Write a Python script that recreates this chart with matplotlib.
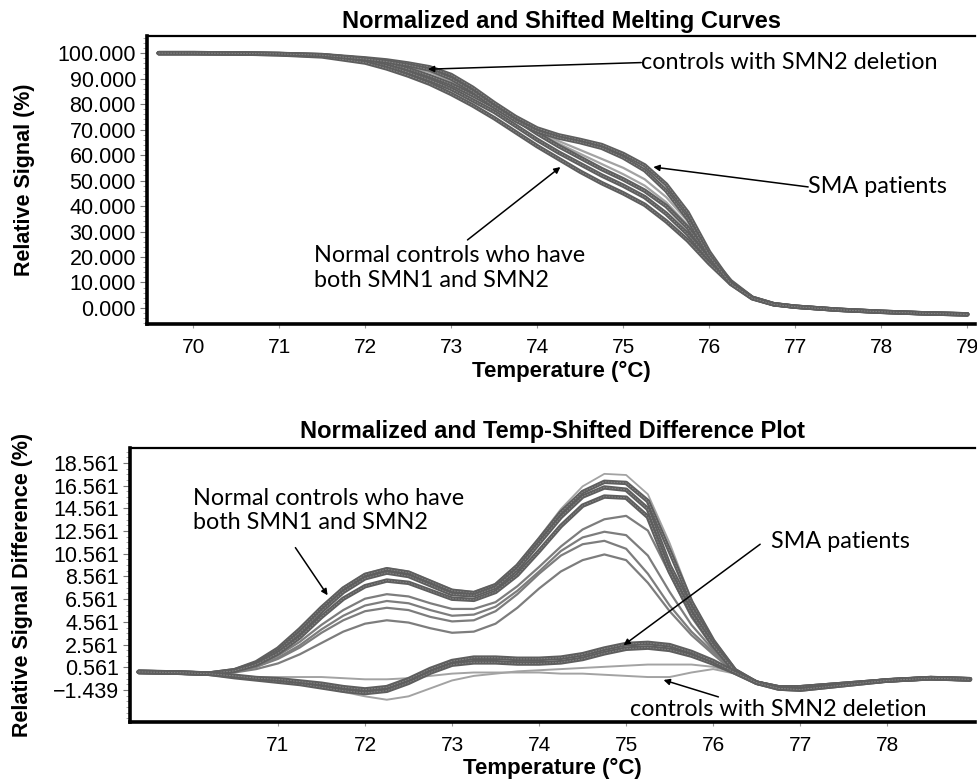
import matplotlib
matplotlib.use("Agg")
import matplotlib.pyplot as plt
from matplotlib.ticker import AutoMinorLocator

plt.rcParams['font.family'] = ['Liberation Sans', 'DejaVu Sans']

# ---- top panel: normalized and shifted melting curves
temp_top = [69.6, 70.0, 70.5, 71.0, 71.5, 72.0, 72.25, 72.5, 72.75, 73.0, 73.25, 73.5, 73.75, 74.0,
            74.25, 74.5, 74.75, 75.0, 75.25, 75.5, 75.75, 76.0, 76.25, 76.5, 76.75, 77.0, 77.5,
            78.0, 78.5, 79.0]
melt_normal = [
    [100, 100, 99.9, 99.7, 99.2, 97.6, 96.0, 93.8, 91.0, 87.8, 83.5, 79.0, 74.0, 68.5, 63.5, 59.0,
     54.5, 50.5, 46.0, 40.0, 31.5, 20.5, 10.5, 4.0, 1.5, 0.5, -0.7, -1.5, -2.1, -2.5],
    [100, 100, 99.9, 99.6, 99.0, 97.0, 95.0, 92.5, 89.5, 86.0, 81.5, 77.0, 71.5, 66.0, 61.0, 56.5,
     52.0, 48.0, 43.5, 37.0, 29.0, 19.0, 10.0, 4.0, 1.5, 0.5, -0.7, -1.5, -2.1, -2.5],
    [100, 100, 99.9, 99.5, 98.7, 96.3, 94.0, 91.2, 88.0, 84.0, 79.5, 74.5, 69.0, 63.5, 58.5, 53.5,
     49.0, 45.0, 40.5, 34.0, 26.5, 17.5, 9.5, 3.8, 1.4, 0.5, -0.7, -1.5, -2.1, -2.5],
]
melt_sma = [
    [100, 100, 99.9, 99.7, 99.3, 98.0, 97.2, 96.0, 94.5, 91.5, 86.5, 80.5, 75.0, 70.5, 67.8, 66.0,
     64.0, 60.5, 56.0, 48.5, 37.5, 22.0, 10.0, 4.0, 1.5, 0.5, -0.7, -1.5, -2.1, -2.5],
    [100, 100, 99.9, 99.7, 99.2, 97.7, 96.7, 95.3, 93.5, 90.0, 85.0, 79.0, 73.5, 69.3, 66.8, 65.0,
     62.8, 59.0, 54.0, 46.0, 35.0, 20.5, 9.5, 3.8, 1.4, 0.5, -0.7, -1.5, -2.1, -2.5],
]
melt_deletion = [
    [100, 100, 99.9, 99.7, 99.3, 97.8, 96.5, 94.7, 92.5, 89.0, 84.5, 79.5, 74.0, 69.0, 64.5, 60.5,
     56.5, 52.5, 48.0, 41.5, 32.5, 21.0, 10.0, 4.0, 1.5, 0.5, -0.7, -1.5, -2.1, -2.5],
    [100, 100, 99.9, 99.7, 99.4, 98.2, 97.0, 95.5, 93.2, 89.8, 85.0, 79.8, 74.5, 69.5, 65.5, 62.0,
     58.5, 55.0, 50.5, 43.5, 34.0, 21.5, 10.0, 4.0, 1.5, 0.5, -0.7, -1.5, -2.1, -2.5],
]
top_yticks = [0, 10, 20, 30, 40, 50, 60, 70, 80, 90, 100]
top_xticks = [70, 71, 72, 73, 74, 75, 76, 77, 78, 79]

# ---- bottom panel: temp-shifted difference plot
temp_bot = [69.4, 69.8, 70.2, 70.5, 70.75, 71.0, 71.25, 71.5, 71.75, 72.0, 72.25, 72.5, 72.75, 73.0,
            73.25, 73.5, 73.75, 74.0, 74.25, 74.5, 74.75, 75.0, 75.25, 75.5, 75.75, 76.0, 76.25,
            76.5, 76.75, 77.0, 77.5, 78.0, 78.5, 78.95]
# dense dark band of normal controls (higher peak)
diff_normal_hi = [
    [0.15, 0.1, 0.0, 0.3, 1.0, 2.2, 3.9, 5.8, 7.5, 8.7, 9.2, 8.9, 8.1, 7.3, 7.1, 7.8, 9.5, 11.8,
     14.2, 16.0, 16.9, 16.8, 15.2, 10.8, 6.3, 2.9, 0.3, -0.8, -1.2, -1.2, -0.9, -0.6, -0.4, -0.5],
    [0.15, 0.1, 0.0, 0.3, 0.9, 2.0, 3.6, 5.5, 7.2, 8.4, 8.9, 8.6, 7.8, 7.0, 6.9, 7.6, 9.2, 11.5,
     13.8, 15.6, 16.4, 16.2, 14.5, 9.5, 5.8, 2.8, 0.3, -0.8, -1.2, -1.2, -0.9, -0.6, -0.4, -0.5],
    [0.15, 0.1, 0.0, 0.25, 0.8, 1.8, 3.2, 5.0, 6.6, 7.7, 8.2, 8.0, 7.3, 6.6, 6.5, 7.2, 8.7, 10.8,
     13.0, 14.8, 15.6, 15.5, 13.8, 9.0, 5.3, 2.5, 0.2, -0.8, -1.2, -1.2, -0.9, -0.6, -0.4, -0.5],
]
# lighter / lower normal control curves
diff_normal_lo = [
    [0.15, 0.1, 0.0, 0.3, 1.0, 2.2, 3.9, 5.9, 7.6, 8.8, 9.3, 9.0, 8.2, 7.4, 7.2, 7.9, 9.6, 12.0,
     14.5, 16.5, 17.6, 17.5, 15.8, 11.5, 6.5, 3.0, 0.3, -0.8, -1.2, -1.2, -0.9, -0.6, -0.4, -0.5],
    [0.15, 0.1, 0.0, 0.2, 0.7, 1.6, 2.8, 4.3, 5.6, 6.6, 7.0, 6.8, 6.2, 5.7, 5.7, 6.3, 7.7, 9.4,
     11.2, 12.7, 13.6, 13.9, 12.6, 8.8, 5.0, 2.3, 0.2, -0.8, -1.2, -1.2, -0.9, -0.6, -0.4, -0.5],
    [0.15, 0.1, 0.0, 0.2, 0.6, 1.4, 2.5, 3.9, 5.1, 6.0, 6.4, 6.2, 5.6, 5.1, 5.2, 5.9, 7.3, 9.0,
     10.8, 12.0, 12.5, 12.2, 10.4, 7.2, 4.3, 2.1, 0.2, -0.8, -1.2, -1.2, -0.9, -0.6, -0.4, -0.5],
    [0.15, 0.1, 0.0, 0.2, 0.6, 1.3, 2.3, 3.6, 4.7, 5.5, 5.8, 5.6, 5.0, 4.6, 4.7, 5.5, 7.0, 8.8,
     10.4, 11.4, 11.7, 11.0, 8.8, 6.0, 3.7, 1.9, 0.2, -0.8, -1.2, -1.2, -0.9, -0.6, -0.4, -0.5],
    [0.15, 0.1, 0.0, 0.1, 0.4, 0.9, 1.7, 2.7, 3.7, 4.4, 4.7, 4.5, 4.0, 3.6, 3.7, 4.4, 5.8, 7.5,
     9.0, 10.0, 10.5, 10.0, 8.0, 5.5, 3.4, 1.7, 0.1, -0.8, -1.2, -1.2, -0.9, -0.6, -0.4, -0.5],
]
diff_sma = [
    [0.15, 0.1, 0.0, -0.3, -0.5, -0.7, -0.9, -1.2, -1.5, -1.7, -1.5, -0.8, 0.1, 0.8, 1.0, 1.0, 0.9,
     0.9, 1.0, 1.3, 1.8, 2.2, 2.3, 2.1, 1.6, 0.9, 0.1, -0.8, -1.3, -1.4, -1.0, -0.6, -0.4, -0.5],
    [0.15, 0.1, 0.0, -0.2, -0.4, -0.5, -0.7, -0.9, -1.2, -1.4, -1.2, -0.5, 0.4, 1.1, 1.4, 1.4, 1.3,
     1.3, 1.4, 1.7, 2.2, 2.6, 2.7, 2.5, 1.9, 1.1, 0.1, -0.8, -1.3, -1.4, -1.0, -0.6, -0.4, -0.5],
]
diff_deletion = [
    [0.15, 0.1, 0.0, -0.2, -0.3, -0.3, -0.3, -0.3, -0.4, -0.5, -0.5, -0.4, -0.2, 0.0, 0.1, 0.1,
     0.1, 0.1, 0.0, 0.0, -0.1, -0.2, -0.3, -0.3, 0.1, 0.4, 0.0, -0.8, -1.2, -1.2, -0.9, -0.6,
     -0.4, -0.5],
    [0.15, 0.1, 0.0, -0.3, -0.4, -0.6, -0.9, -1.2, -1.6, -2.0, -2.3, -2.0, -1.3, -0.6, -0.2, 0.0,
     0.2, 0.3, 0.4, 0.5, 0.6, 0.7, 0.8, 0.8, 0.8, 0.6, 0.1, -0.8, -1.2, -1.2, -0.9, -0.6, -0.4,
     -0.5],
]
bot_yticks = [-1.439, 0.561, 2.561, 4.561, 6.561, 8.561, 10.561, 12.561, 14.561, 16.561, 18.561]
bot_xticks = [71, 72, 73, 74, 75, 76, 77, 78]

DARK = '#5e5e5e'
MID = '#7d7d7d'
LIGHT = '#a3a3a3'
note_font = ['Lato', 'DejaVu Sans']
NOTE_SIZE = 16.8

fig = plt.figure(figsize=(9.77, 7.84), dpi=100)
ax1 = fig.add_axes([0.1505, 0.5867, 0.8475, 0.3673])
ax2 = fig.add_axes([0.1331, 0.0791, 0.865, 0.3495])


def draw_bundle(ax, x, curves, color, lw, grain=True):
    for ys in curves:
        ax.plot(x, ys, color=color, lw=lw, solid_capstyle='round', solid_joinstyle='round')
        if grain:
            ax.plot(x, ys, color='#8a8a8a', lw=0.6, ls=(0, (2, 1.5)))


def style_axes(ax):
    for side in ('left', 'bottom'):
        ax.spines[side].set_linewidth(2.6)
    ax.spines['top'].set_linewidth(1.6)
    ax.spines['right'].set_visible(False)
    ax.tick_params(axis='y', which='major', length=5, width=0.8, color='#777', labelsize=15.5, pad=3)
    ax.tick_params(axis='y', which='minor', length=3, width=0.6, color='#999')
    ax.tick_params(axis='x', which='major', length=3, width=0.8, color='#999', labelsize=15, pad=7)


def arrow(ax, tail, tip):
    ax.annotate('', xy=tip, xytext=tail,
                arrowprops=dict(arrowstyle='-|>', color='black', lw=1.1, mutation_scale=9,
                                shrinkA=0, shrinkB=0))


# top
draw_bundle(ax1, temp_top, melt_deletion, LIGHT, 1.6, grain=False)
draw_bundle(ax1, temp_top, melt_normal, DARK, 3.2)
draw_bundle(ax1, temp_top, melt_sma, DARK, 3.0)
ax1.set_xlim(69.465, 79.09)
ax1.set_ylim(-6.3, 106.7)
ax1.set_yticks(top_yticks)
ax1.set_yticklabels([f'{v:.3f}' for v in top_yticks])
ax1.set_xticks(top_xticks)
style_axes(ax1)
ax1.yaxis.set_minor_locator(AutoMinorLocator(5))
ax1.set_title('Normalized and Shifted Melting Curves', fontsize=17, fontweight='bold', pad=6)
ax1.set_ylabel('Relative Signal (%)', fontsize=15.5, fontweight='bold')
ax1.yaxis.set_label_coords(-0.135, 0.5)
ax1.set_xlabel('Temperature (°C)', fontsize=16, fontweight='bold', labelpad=3)

ax1.text(75.21, 96.5, 'controls with SMN2 deletion', fontsize=NOTE_SIZE, family=note_font,
         va='center')
arrow(ax1, (75.21, 96.3), (72.73, 93.7))
ax1.text(77.15, 47.5, 'SMA patients', fontsize=NOTE_SIZE, family=note_font, va='center')
arrow(ax1, (77.15, 47.5), (75.35, 55.3))
ax1.text(71.40, 15.7, 'Normal controls who have\nboth SMN1 and SMN2', fontsize=NOTE_SIZE,
         family=note_font, va='center', linespacing=1.2)
arrow(ax1, (73.19, 26.7), (74.27, 55.3))

# bottom
draw_bundle(ax2, temp_bot, diff_deletion, LIGHT, 1.4, grain=False)
draw_bundle(ax2, temp_bot, diff_normal_lo[:1], LIGHT, 1.3, grain=False)
draw_bundle(ax2, temp_bot, diff_normal_lo[1:], MID, 1.6, grain=False)
draw_bundle(ax2, temp_bot, diff_normal_hi, DARK, 3.2)
draw_bundle(ax2, temp_bot, diff_sma, DARK, 3.4)
ax2.set_xlim(69.3, 79.01)
ax2.set_ylim(-4.26, 19.88)
ax2.set_yticks(bot_yticks)
ax2.set_yticklabels([f'{v:.3f}'.replace('-', '\u2212') for v in bot_yticks])
ax2.set_xticks(bot_xticks)
style_axes(ax2)
ax2.yaxis.set_minor_locator(AutoMinorLocator(4))
ax2.set_title('Normalized and Temp-Shifted Difference Plot', fontsize=17, fontweight='bold', pad=7)
ax2.set_ylabel('Relative Signal Difference (%)', fontsize=15.5, fontweight='bold')
ax2.yaxis.set_label_coords(-0.115, 0.5)
ax2.set_xlabel('Temperature (°C)', fontsize=16, fontweight='bold', labelpad=2)

ax2.text(70.02, 14.35, 'Normal controls who have\nboth SMN1 and SMN2', fontsize=NOTE_SIZE,
         family=note_font, va='center', linespacing=1.2)
arrow(ax2, (71.2, 11.1), (71.57, 6.9))
ax2.text(76.66, 11.6, 'SMA patients', fontsize=NOTE_SIZE, family=note_font, va='center')
arrow(ax2, (76.54, 11.4), (74.97, 2.5))
ax2.text(75.05, -3.2, 'controls with SMN2 deletion', fontsize=NOTE_SIZE, family=note_font,
         va='center')
arrow(ax2, (76.06, -2.05), (75.43, -0.56))

fig.savefig('out.png', dpi=100)
